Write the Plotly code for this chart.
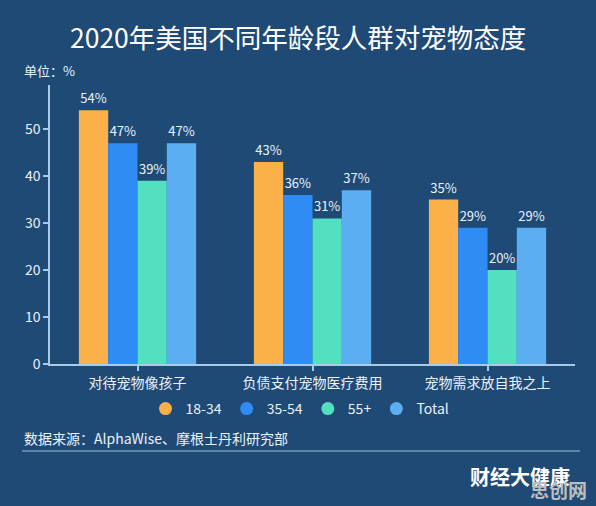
import plotly.graph_objects as go

categories = ["对待宠物像孩子", "负债支付宠物医疗费用", "宠物需求放自我之上"]
series_names = ["18-34", "35-54", "55+", "Total"]
values_18_34 = [54, 43, 35]
values_35_54 = [47, 36, 29]
values_55p = [39, 31, 20]
values_total = [47, 37, 29]
y_ticks = [0, 10, 20, 30, 40, 50]

colors = ["#FBB04A", "#2F8CF5", "#52E0C0", "#5BAEF2"]
bg = "#1F4A75"
axis_col = "#A9CBEA"
txt_col = "#EAF2FA"
font_fam = "Noto Sans CJK SC"

W, H = 596, 506
l, r, t, b = 50, 21, 85, 142
pw, ph = W - l - r, H - t - b


def px_x(x):
    return (x - l) / pw


def px_y(y):
    return (H - b - y) / ph


fig = go.Figure()
all_vals = [values_18_34, values_35_54, values_55p, values_total]
for name, vals, c in zip(series_names, all_vals, colors):
    fig.add_trace(go.Bar(
        x=categories, y=vals, name=name, marker=dict(color=c, line=dict(width=0)),
        text=[f"{v}%" for v in vals], textposition="outside",
        textfont=dict(color=txt_col, size=13, family=font_fam),
        cliponaxis=False, showlegend=False,
    ))
# legend entries with circle markers
for name, c in zip(series_names, colors):
    fig.add_trace(go.Scatter(
        x=[None], y=[None], mode="markers", name=name,
        marker=dict(symbol="circle", size=13, color=c), showlegend=True,
    ))

fig.update_layout(
    width=W, height=H,
    paper_bgcolor=bg, plot_bgcolor=bg,
    margin=dict(l=l, r=r, t=t, b=b),
    barmode="group", bargap=0.33, bargroupgap=0,
    font=dict(family=font_fam, color=txt_col),
    legend=dict(orientation="h", x=px_x(300), xanchor="center", y=px_y(409), yanchor="middle",
                font=dict(size=14, color=txt_col), itemwidth=30,
                bgcolor="rgba(0,0,0,0)"),
    xaxis=dict(
        range=[-0.5, 2.5], showgrid=False, showline=True, linecolor=axis_col, linewidth=1.5,
        ticks="outside", ticklen=5, tickcolor=axis_col, tickwidth=1.5,
        tickfont=dict(size=14, color=txt_col), zeroline=False,
    ),
    yaxis=dict(
        range=[0, 59.4], showgrid=False, showline=True, linecolor=axis_col, linewidth=1.5,
        tickvals=y_ticks, ticks="outside", ticklen=5, tickcolor=axis_col, tickwidth=1.5,
        tickfont=dict(size=14, color=txt_col), zeroline=False,
    ),
    annotations=[
        dict(text="2020年美国不同年龄段人群对宠物态度", x=px_x(W / 2), y=px_y(36),
             xanchor="center", yanchor="middle",
             font=dict(size=26.5, color="#FFFFFF")),
        dict(text="单位：%", x=px_x(22), y=px_y(70), xanchor="left", yanchor="middle",
             font=dict(size=13, color=txt_col)),
        dict(text="数据来源：AlphaWise、摩根士丹利研究部", x=px_x(22), y=px_y(438),
             xanchor="left", yanchor="middle", font=dict(size=14, color=txt_col)),
        dict(text="<b>财经大健康</b>", x=px_x(572), y=px_y(476), xanchor="right", yanchor="middle",
             font=dict(size=20, color="#FFFFFF")),
        dict(text="<b>思创网</b>", x=px_x(589), y=px_y(489), xanchor="right", yanchor="middle",
             font=dict(size=19, color="#BDBDBD")),
    ],
    shapes=[dict(type="line", xref="paper", yref="paper",
                 x0=px_x(22), x1=px_x(580), y0=px_y(451), y1=px_y(451),
                 line=dict(color="#9FBEDD", width=1))],
)
for a in fig.layout.annotations:
    a.xref = "paper"
    a.yref = "paper"
    a.showarrow = False

fig.write_html("out.html")
